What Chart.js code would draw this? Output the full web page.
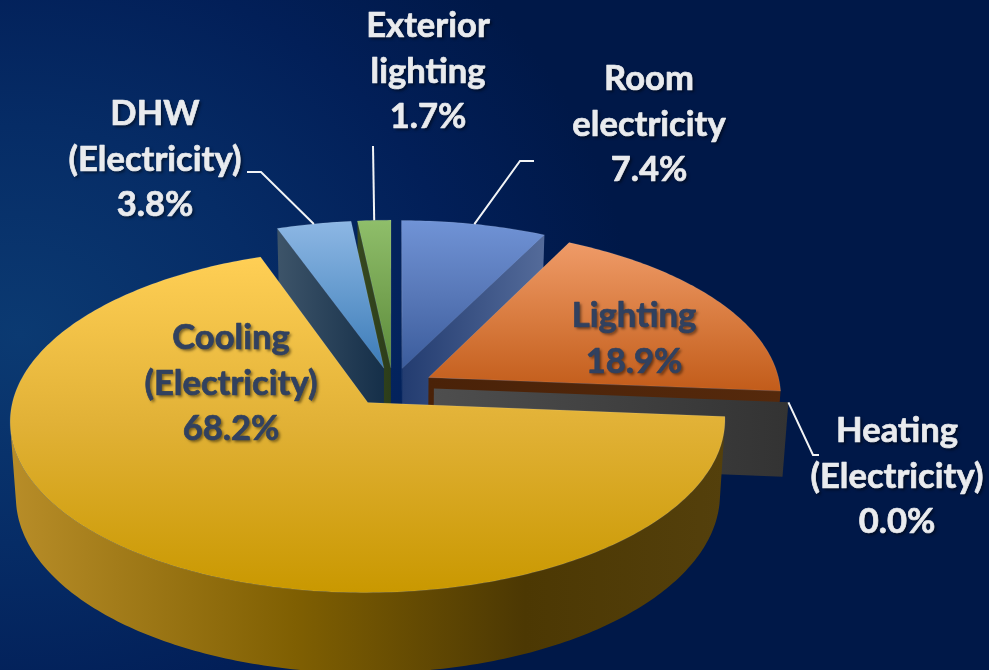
<!DOCTYPE html>
<html>
<head>
<meta charset="utf-8">
<title>Electricity use by end use</title>
<script src="https://cdn.jsdelivr.net/npm/chart.js@4"></script>
<style>
  html, body { margin: 0; padding: 0; width: 989px; height: 670px; overflow: hidden; }
  body { background: radial-gradient(ellipse 62% 78% at 2% 50%, #0b3a72 0%, #062c66 40%, #021f58 72%, #001848 100%), #001848; }
  canvas { display: block; }
</style>
</head>
<body>
<canvas id="pie" width="989" height="670"></canvas>
<script>
const categories = ["Room electricity", "Lighting", "Heating (Electricity)", "Cooling (Electricity)", "DHW (Electricity)", "Exterior lighting"]
const shares = [7.4, 18.9, 0.0, 68.2, 3.8, 1.7]
const labelLines = [["Room", "electricity"], ["Lighting"], ["Heating", "(Electricity)"], ["Cooling", "(Electricity)"], ["DHW", "(Electricity)"], ["Exterior", "lighting"]]

// face gradient top/middle/bottom, side wall dark/light
const faceTop = ["#7093d6", "#ef9b68", "#4c4c4c", "#ffcf55", "#8db7e4", "#8fbe6a"]
const faceMid = ["#5878b8", "#d97c40", "#4c4c4c", "#e1b136", "#649ace", "#76a452"]
const faceBottom = ["#3b5c9c", "#c25c1a", "#4c4c4c", "#c99800", "#3c7bb8", "#5b8a3b"]
const wallDark = ["#233c70", "#4a2208", "#333333", "#54400c", "#152f49", "#2c3d1a"]
const wallLight = ["#546b9a", "#55290c", "#4e4e4e", "#b88d28", "#3d5469", "#36481f"]

// label centre x, first line y, colour, leader elbow points
const labelSpots = [
  { x: 649, y: 79, color: "#e9ebee", elbow: [[534, 161], [520, 161]] },
  { x: 634, y: 316, color: "#31415f" },
  { x: 897, y: 431, color: "#e9ebee", elbow: [[819, 455], [813, 455]] },
  { x: 231, y: 338, color: "#31415f" },
  { x: 155, y: 114, color: "#e9ebee", elbow: [[247, 172], [261, 172]] },
  { x: 428, y: 26, color: "#e9ebee", elbow: [[373, 146]] },
]

// painter's order for the exploded slices, far ones first
const drawOrder = [5, 4, 0, 1, 2, 3]

const PIE_X = 393
const PIE_Y = 387
const TILT = 0.474
const DEPTH = 74
const NEAR_GROWTH = 0.104
const FLOOR_SHRINK = 0.015
const LINE_GAP = 45.5

function project(px, py, z, radius) {
  const s = 1 / (1 - NEAR_GROWTH * py / radius)
  const f = 1 - FLOOR_SHRINK * z
  return [PIE_X + px * s * f, PIE_Y + py * TILT * s * f + z * DEPTH * s]
}

function sliceGeometry(arc) {
  const half = (arc.startAngle + arc.endAngle) / 2
  const shift = (arc.options.offset || 0) / 4
  const ax = Math.cos(half) * shift
  const ay = Math.sin(half) * shift
  const r = arc.outerRadius
  const at = (angle, z) => project(ax + Math.cos(angle) * r, ay + Math.sin(angle) * r, z, r)
  const apex = (z) => project(ax, ay, z, r)
  return { half, at, apex }
}

function area(points) {
  let sum = 0
  points.forEach((p, i) => {
    const q = points[(i + 1) % points.length]
    sum += p[0] * q[1] - q[0] * p[1]
  })
  return sum / 2
}

function fillShape(ctx, points, fill) {
  ctx.beginPath()
  points.forEach((p, i) => (i ? ctx.lineTo(p[0], p[1]) : ctx.moveTo(p[0], p[1])))
  ctx.closePath()
  ctx.fillStyle = fill
  ctx.fill()
}

function sideGradient(ctx, points, dark, light, lightOnLeft) {
  const xs = points.map((p) => p[0])
  const g = ctx.createLinearGradient(Math.min(...xs), 0, Math.max(...xs), 0)
  g.addColorStop(0, lightOnLeft ? light : dark)
  g.addColorStop(1, lightOnLeft ? dark : light)
  return g
}

function drawSlice(ctx, arc, i) {
  const { at, apex } = sliceGeometry(arc)
  const a0 = arc.startAngle
  const a1 = arc.endAngle

  // radial walls, only those turned towards the viewer
  const startWall = [apex(0), at(a0, 0), at(a0, 1), apex(1)]
  const endWall = [apex(0), at(a1, 0), at(a1, 1), apex(1)]
  if (area(endWall) > 0) {
    fillShape(ctx, endWall, sideGradient(ctx, endWall, wallDark[i], wallLight[i], i === 2))
  }
  if (area(startWall) < 0 && a1 > a0) {
    fillShape(ctx, startWall, sideGradient(ctx, startWall, wallDark[i], wallLight[i], true))
  }

  // outer rim
  const steps = Math.ceil((a1 - a0) / 0.015)
  const top = []
  const bottom = []
  for (let k = 0; k < steps; k++) {
    const b0 = a0 + (a1 - a0) * k / steps
    const b1 = a0 + (a1 - a0) * (k + 1) / steps
    if (area([at(b0, 0), at(b1, 0), at(b1, 1), at(b0, 1)]) < 0) {
      if (!top.length) {
        top.push(at(b0, 0))
        bottom.push(at(b0, 1))
      }
      top.push(at(b1, 0))
      bottom.push(at(b1, 1))
    }
  }
  if (top.length) {
    const rim = top.concat(bottom.reverse())
    const xs = rim.map((p) => p[0])
    const g = ctx.createLinearGradient(Math.min(...xs), 0, Math.max(...xs), 0)
    g.addColorStop(0, wallLight[i])
    g.addColorStop(0.4, "#7f5f02")
    g.addColorStop(0.72, "#4c3803")
    g.addColorStop(1, wallDark[i])
    fillShape(ctx, rim, g)
  }

  // top face
  if (a1 > a0) {
    const face = [apex(0)]
    for (let k = 0; k <= steps; k++) face.push(at(a0 + (a1 - a0) * k / steps, 0))
    const ys = face.map((p) => p[1])
    const g = ctx.createLinearGradient(0, Math.min(...ys), 0, Math.max(...ys))
    g.addColorStop(0, faceTop[i])
    g.addColorStop(0.5, faceMid[i])
    g.addColorStop(1, faceBottom[i])
    fillShape(ctx, face, g)
    ctx.strokeStyle = "rgba(255, 255, 255, 0.1)"
    ctx.lineWidth = 1
    ctx.stroke()
  }
}

function drawLabels(ctx, arcs) {
  ctx.save()
  ctx.strokeStyle = "#f2f4f6"
  ctx.lineWidth = 2
  labelSpots.forEach((spot, i) => {
    if (!spot.elbow) return
    const { half, at } = sliceGeometry(arcs[i])
    const end = at(half, 0)
    ctx.beginPath()
    spot.elbow.forEach((p, k) => (k ? ctx.lineTo(p[0], p[1]) : ctx.moveTo(p[0], p[1])))
    ctx.lineTo(end[0], end[1])
    ctx.stroke()
  })

  ctx.font = "bold 34.6px Lato"
  ctx.textAlign = "center"
  ctx.textBaseline = "middle"
  ctx.lineJoin = "round"
  labelSpots.forEach((spot, i) => {
    const lines = labelLines[i].concat(shares[i].toFixed(1) + "%")
    ctx.fillStyle = spot.color
    ctx.strokeStyle = spot.color
    ctx.lineWidth = 0.7
    lines.forEach((line, k) => {
      ctx.shadowColor = "rgba(0, 0, 0, 0.5)"
      ctx.shadowBlur = 3
      ctx.shadowOffsetX = 2
      ctx.shadowOffsetY = 2
      ctx.fillText(line, spot.x, spot.y + k * LINE_GAP)
      ctx.shadowColor = "transparent"
      ctx.strokeText(line, spot.x, spot.y + k * LINE_GAP)
    })
  })
  ctx.restore()
}

// Chart.js lays out the arcs; this plugin paints them as an exploded 3D pie
const pie3d = {
  id: "pie3d",
  beforeDatasetsDraw(chart) {
    const ctx = chart.ctx
    const arcs = chart.getDatasetMeta(0).data
    drawOrder.forEach((i) => drawSlice(ctx, arcs[i], i))
    drawLabels(ctx, arcs)
    return false
  },
}

new Chart(document.getElementById("pie"), {
  type: "pie",
  data: {
    labels: categories,
    datasets: [{ data: shares, backgroundColor: faceTop, offset: 164, borderWidth: 0 }],
  },
  options: {
    responsive: false,
    animation: false,
    radius: 352,
    plugins: { legend: { display: false }, tooltip: { enabled: false } },
  },
  plugins: [pie3d],
})
</script>
</body>
</html>
